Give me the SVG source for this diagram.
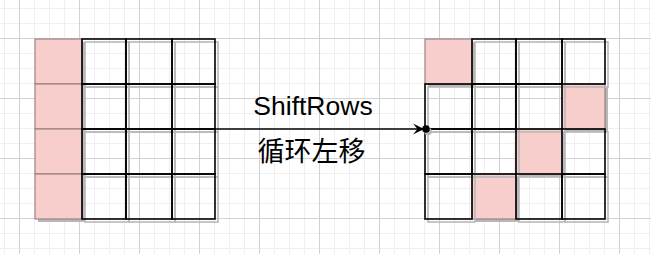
<svg xmlns="http://www.w3.org/2000/svg" width="651" height="254" viewBox="0 0 651 254">
<defs>
<pattern id="grid" width="60" height="60" patternUnits="userSpaceOnUse" x="19" y="38">
<path d="M15.5 0V60M30.5 0V60M45.5 0V60M0 15.5H60M0 30.5H60M0 45.5H60" stroke="#efefef" stroke-width="1" fill="none"/>
<path d="M0.5 0V60M0 0.5H60" stroke="#d2d2d2" stroke-width="1" fill="none"/>
</pattern>
<marker id="arr" markerWidth="14" markerHeight="14" refX="11" refY="6" orient="auto" markerUnits="userSpaceOnUse">
<path d="M0,0.5 L11,6 L0,11.5 L4.5,6 Z" fill="#000"/>
</marker>
</defs>
<style>
.sh{fill:none;stroke:#b8b8b8;stroke-width:1.6}
.cell{fill:none;stroke:#000;stroke-width:1.6}
.pksh{fill:#b8b8b8;stroke:none}
.pk{fill:#f8cecc;stroke:#8c7474;stroke-width:1}
.lbl{font-family:"Liberation Sans",Arial,sans-serif;font-size:26.5px;fill:#000;text-anchor:middle}
.cjk{font-family:"Liberation Sans","Noto Sans CJK SC",sans-serif;font-size:27px;fill:#000;text-anchor:middle}
</style>
<rect width="651" height="254" fill="#fff"/>
<rect width="651" height="254" fill="url(#grid)"/>

<g id="left-grid">
<g id="L00"><rect class="pksh" x="38" y="42" width="47" height="45"/><rect class="pk" x="35" y="39" width="47" height="45"/></g>
<g id="L10"><rect class="pksh" x="38" y="87" width="47" height="45"/><rect class="pk" x="35" y="84" width="47" height="45"/></g>
<g id="L20"><rect class="pksh" x="38" y="132" width="47" height="45"/><rect class="pk" x="35" y="129" width="47" height="45"/></g>
<g id="L30"><rect class="pksh" x="38" y="177" width="47" height="45"/><rect class="pk" x="35" y="174" width="47" height="45"/></g>

<g id="L01"><rect class="sh" x="85" y="42" width="44" height="45"/><rect class="cell" x="82" y="39" width="44" height="45"/></g>
<g id="L02"><rect class="sh" x="129" y="42" width="46" height="45"/><rect class="cell" x="126" y="39" width="46" height="45"/></g>
<g id="L03"><rect class="sh" x="175" y="42" width="43" height="45"/><rect class="cell" x="172" y="39" width="43" height="45"/></g>
<g id="L11"><rect class="sh" x="85" y="87" width="44" height="45"/><rect class="cell" x="82" y="84" width="44" height="45"/></g>
<g id="L12"><rect class="sh" x="129" y="87" width="46" height="45"/><rect class="cell" x="126" y="84" width="46" height="45"/></g>
<g id="L13"><rect class="sh" x="175" y="87" width="43" height="45"/><rect class="cell" x="172" y="84" width="43" height="45"/></g>
<g id="L21"><rect class="sh" x="85" y="132" width="44" height="45"/><rect class="cell" x="82" y="129" width="44" height="45"/></g>
<g id="L22"><rect class="sh" x="129" y="132" width="46" height="45"/><rect class="cell" x="126" y="129" width="46" height="45"/></g>
<g id="L23"><rect class="sh" x="175" y="132" width="43" height="45"/><rect class="cell" x="172" y="129" width="43" height="45"/></g>
<g id="L31"><rect class="sh" x="85" y="177" width="44" height="45"/><rect class="cell" x="82" y="174" width="44" height="45"/></g>
<g id="L32"><rect class="sh" x="129" y="177" width="46" height="45"/><rect class="cell" x="126" y="174" width="46" height="45"/></g>
<g id="L33"><rect class="sh" x="175" y="177" width="43" height="45"/><rect class="cell" x="172" y="174" width="43" height="45"/></g>
</g>

<g id="right-grid">
<g id="R00"><rect class="pksh" x="428" y="42" width="47" height="45"/><rect class="pk" x="425" y="39" width="47" height="45"/></g>
<g id="R13"><rect class="pksh" x="565" y="87" width="43" height="45"/><rect class="pk" x="562" y="84" width="43" height="45"/></g>
<g id="R22"><rect class="pksh" x="519" y="132" width="46" height="45"/><rect class="pk" x="516" y="129" width="46" height="45"/></g>
<g id="R31"><rect class="pksh" x="475" y="177" width="44" height="45"/><rect class="pk" x="472" y="174" width="44" height="45"/></g>

<g id="R01"><rect class="sh" x="475" y="42" width="44" height="45"/><rect class="cell" x="472" y="39" width="44" height="45"/></g>
<g id="R02"><rect class="sh" x="519" y="42" width="46" height="45"/><rect class="cell" x="516" y="39" width="46" height="45"/></g>
<g id="R03"><rect class="sh" x="565" y="42" width="43" height="45"/><rect class="cell" x="562" y="39" width="43" height="45"/></g>
<g id="R10"><rect class="sh" x="428" y="87" width="47" height="45"/><rect class="cell" x="425" y="84" width="47" height="45"/></g>
<g id="R11"><rect class="sh" x="475" y="87" width="44" height="45"/><rect class="cell" x="472" y="84" width="44" height="45"/></g>
<g id="R12"><rect class="sh" x="519" y="87" width="46" height="45"/><rect class="cell" x="516" y="84" width="46" height="45"/></g>
<g id="R20"><rect class="sh" x="428" y="132" width="47" height="45"/><rect class="cell" x="425" y="129" width="47" height="45"/></g>
<g id="R21"><rect class="sh" x="475" y="132" width="44" height="45"/><rect class="cell" x="472" y="129" width="44" height="45"/></g>
<g id="R23"><rect class="sh" x="565" y="132" width="43" height="45"/><rect class="cell" x="562" y="129" width="43" height="45"/></g>
<g id="R30"><rect class="sh" x="428" y="177" width="47" height="45"/><rect class="cell" x="425" y="174" width="47" height="45"/></g>
<g id="R32"><rect class="sh" x="519" y="177" width="46" height="45"/><rect class="cell" x="516" y="174" width="46" height="45"/></g>
<g id="R33"><rect class="sh" x="565" y="177" width="43" height="45"/><rect class="cell" x="562" y="174" width="43" height="45"/></g>
</g>

<g id="connectors">
<circle cx="428" cy="131.5" r="3.8" fill="#b8b8b8"/>
<path d="M215,129 H424" stroke="#000" stroke-width="1.6" fill="none" marker-end="url(#arr)"/>
<circle cx="426" cy="129" r="3.8" fill="#000"/>
<text class="lbl" x="313" y="115">ShiftRows</text>
<text class="cjk" x="311.5" y="161">循环左移</text>
</g>
</svg>
